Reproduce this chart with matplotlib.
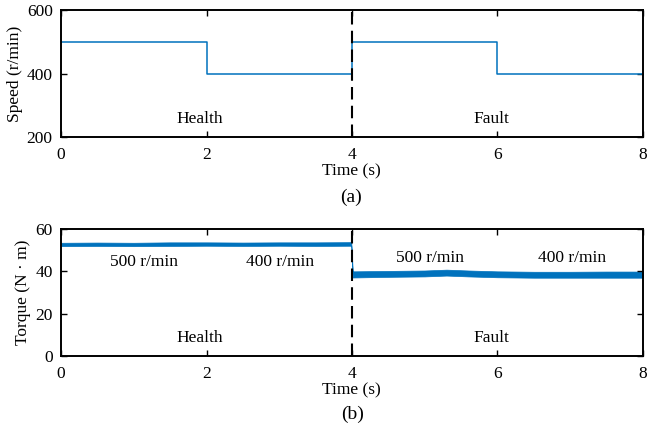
import matplotlib.pyplot as plt
import numpy as np

plt.rcParams["font.family"] = ["Liberation Serif", "DejaVu Serif"]
plt.rcParams["font.size"] = 12.5

BLUE = "#0072BD"

# speed reference: step changes every 2 s
speed_t = [0, 2, 4, 6, 8]
speed_v = [500, 400, 500, 400, 400]

# torque ripple band (lower / upper envelope) read at a few instants
torque_t = [0.0, 0.5, 1.0, 1.5, 2.0, 2.5, 3.0, 3.5, 3.99,
            4.01, 4.5, 5.0, 5.3, 5.6, 6.0, 6.5, 7.0, 7.5, 8.0]
torque_lo = [51.9, 52.0, 51.9, 52.0, 52.1, 52.0, 52.1, 52.0, 52.1,
             37.1, 37.4, 37.6, 38.0, 37.6, 37.2, 37.0, 37.0, 37.0, 37.0]
torque_hi = [53.5, 53.6, 53.5, 53.7, 53.7, 53.6, 53.7, 53.7, 53.8,
             40.0, 40.2, 40.4, 40.8, 40.4, 40.0, 39.8, 39.8, 39.9, 39.9]

speed_notes = [(1.91, 257, "Health"), (5.91, 257, "Fault")]
torque_notes = [(1.91, 8.5, "Health"), (5.92, 8.5, "Fault"),
                (1.14, 44.5, "500 r/min"), (3.01, 44.5, "400 r/min"),
                (5.07, 46.3, "500 r/min"), (7.02, 46.3, "400 r/min")]


def style(ax):
    ax.set_xlim(0, 8)
    ax.set_xticks([0, 2, 4, 6, 8])
    ax.tick_params(direction="in", top=True, right=True, length=4, width=1,
                   labelsize=12.5)
    ax.tick_params(axis="x", pad=7)
    ax.tick_params(axis="y", pad=6)
    for s in ax.spines.values():
        s.set_linewidth(1.4)
    ax.axvline(4, color="k", lw=1.5, ls=(0, (6, 3)), zorder=3)


fig = plt.figure(figsize=(6.47, 4.30), dpi=100)
ax1 = fig.add_axes([0.0943, 0.6814, 0.8995, 0.2953])
ax2 = fig.add_axes([0.0943, 0.1721, 0.8995, 0.2953])

ax1.step(speed_t, speed_v, where="post", color=BLUE, lw=1.1)
ax1.set_ylim(200, 600)
ax1.set_yticks([200, 400, 600])
style(ax1)
for x, y, s in speed_notes:
    ax1.text(x, y, s, ha="center", va="center")
ax1.set_ylabel("Speed (r/min)", labelpad=3)

ax2.fill_between(torque_t, torque_lo, torque_hi, color=BLUE, lw=0.5,
                 edgecolor=BLUE)
ax2.set_ylim(0, 60)
ax2.set_yticks([0, 20, 40, 60])
style(ax2)
for x, y, s in torque_notes:
    ax2.text(x, y, s, ha="center", va="center")
ax2.set_ylabel("Torque (N · m)", labelpad=3)

fig.text(0.5425, 1 - 171 / 430, "Time (s)", ha="center", va="center")
fig.text(0.5425, 1 - 197 / 430, "(a)", ha="center", va="center", fontsize=14)
fig.text(0.5425, 1 - 390 / 430, "Time (s)", ha="center", va="center")
fig.text(0.5455, 1 - 414 / 430, "(b)", ha="center", va="center", fontsize=14)

fig.savefig("out.png", dpi=100, facecolor="white")
